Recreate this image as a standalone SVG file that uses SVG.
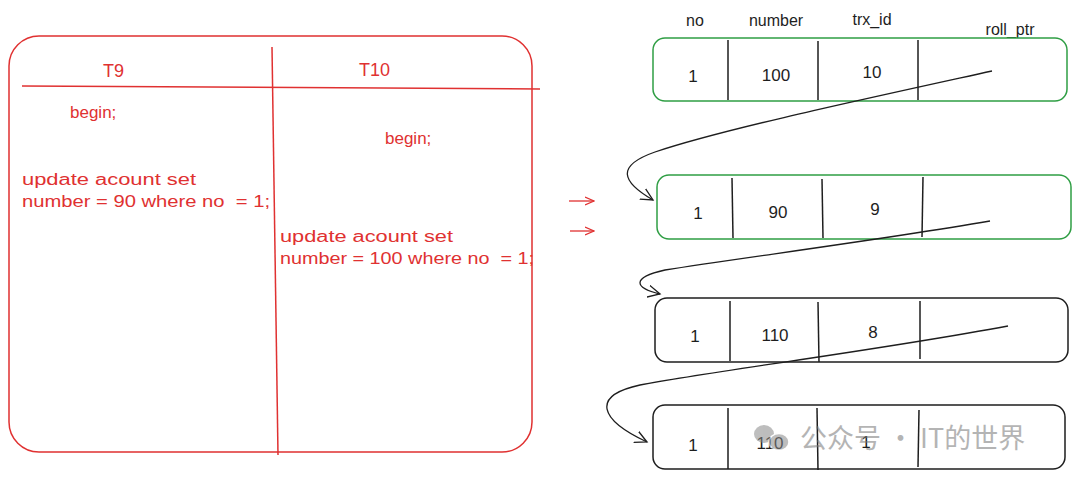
<svg xmlns="http://www.w3.org/2000/svg" width="1080" height="480" viewBox="0 0 1080 480">
<style>
.red{fill:none;stroke:#e03131;stroke-width:1.5}
.rt{fill:#e03131;font-family:"Liberation Sans",sans-serif;font-size:16px;white-space:pre}
.bt{fill:#1e1e1e;font-family:"Liberation Sans",sans-serif;font-size:17px;text-anchor:middle}
.ht{fill:#1e1e1e;font-family:"Liberation Sans",sans-serif;font-size:16px;text-anchor:middle}
.g{fill:#fff;stroke:#2f9e44;stroke-width:1.5}
.k{fill:#fff;stroke:#1e1e1e;stroke-width:1.5}
.dv{stroke:#1e1e1e;stroke-width:1.5}
.con{fill:none;stroke:#1e1e1e;stroke-width:1.3}
.ra{fill:none;stroke:#e03131;stroke-width:1.3}
</style>
<defs>
<marker id="ah" markerWidth="14" markerHeight="14" refX="12" refY="7" orient="auto" markerUnits="userSpaceOnUse">
<path d="M0,1 L12,7 L0,13" fill="none" stroke="#1e1e1e" stroke-width="1.3"/>
</marker>
<marker id="rah" markerWidth="10" markerHeight="10" refX="9" refY="5" orient="auto" markerUnits="userSpaceOnUse">
<path d="M0,1 L9,5 L0,9" fill="none" stroke="#e03131" stroke-width="1.3"/>
</marker>
</defs>
<rect width="1080" height="480" fill="#fff"/>

<g id="transactions">
<rect class="red" x="9" y="36" width="523" height="416" rx="30"/>
<line class="red" x1="272" y1="47" x2="278" y2="455"/>
<line class="red" x1="22" y1="86" x2="540" y2="89"/>
<text class="rt" x="103" y="77" style="font-size:18px">T9</text>
<text class="rt" x="359" y="76" style="font-size:18px">T10</text>
<text class="rt" x="70" y="118" style="font-size:17px">begin;</text>
<text class="rt" x="385" y="144" style="font-size:17px">begin;</text>
<text class="rt" x="22" y="185" textLength="174" lengthAdjust="spacingAndGlyphs">update acount set</text>
<text class="rt" x="22" y="207" textLength="248" lengthAdjust="spacingAndGlyphs" xml:space="preserve">number = 90 where no  = 1;</text>
<text class="rt" x="280" y="242" textLength="173" lengthAdjust="spacingAndGlyphs">update acount set</text>
<text class="rt" x="280" y="264" textLength="254" lengthAdjust="spacingAndGlyphs" xml:space="preserve">number = 100 where no  = 1;</text>
</g>

<g id="headers">
<text class="ht" x="695" y="26">no</text>
<text class="ht" x="776" y="26">number</text>
<text class="ht" x="872" y="25">trx_id</text>
<text class="ht" x="1010" y="35">roll_ptr</text>
</g>

<g id="row1">
<rect class="g" x="653" y="38" width="414" height="63" rx="12"/>
<line class="dv" x1="728" y1="40" x2="728" y2="100"/>
<line class="dv" x1="818" y1="41" x2="818" y2="100"/>
<line class="dv" x1="918" y1="40" x2="918" y2="100"/>
<text class="bt" x="693" y="82">1</text>
<text class="bt" x="776" y="81">100</text>
<text class="bt" x="872" y="78">10</text>
</g>

<g id="row2">
<rect class="g" x="657" y="175" width="414" height="64" rx="12"/>
<line class="dv" x1="732" y1="178" x2="733" y2="238"/>
<line class="dv" x1="822" y1="179" x2="823" y2="238"/>
<line class="dv" x1="923" y1="177" x2="922" y2="237"/>
<text class="bt" x="698" y="219">1</text>
<text class="bt" x="778" y="218">90</text>
<text class="bt" x="875" y="215">9</text>
</g>

<g id="row3">
<rect class="k" x="655" y="298" width="413" height="64" rx="12"/>
<line class="dv" x1="730" y1="301" x2="730" y2="361"/>
<line class="dv" x1="818" y1="302" x2="819" y2="362"/>
<line class="dv" x1="920" y1="301" x2="920" y2="359"/>
<text class="bt" x="695" y="342">1</text>
<text class="bt" x="775" y="341">110</text>
<text class="bt" x="873" y="338">8</text>
</g>

<g id="row4">
<rect class="k" x="653" y="405" width="412" height="64" rx="12"/>
<line class="dv" x1="728" y1="408" x2="728" y2="469"/>
<line class="dv" x1="817" y1="408" x2="818" y2="470"/>
<line class="dv" x1="919" y1="410" x2="918" y2="467"/>
<text class="bt" x="693" y="451">1</text>
<text class="bt" x="770" y="449">110</text>
<text class="bt" x="866" y="448">1</text>
</g>

<g id="connectors">
<path class="con" d="M992,71 C860,100 720,130 655,152 C615,166 622,182 653,200" marker-end="url(#ah)"/>
<path class="con" d="M990,221 C880,240 740,258 665,270 C630,278 635,288 660,294" marker-end="url(#ah)"/>
<path class="con" d="M1008,326 C880,350 720,370 640,385 C590,396 600,420 647,442" marker-end="url(#ah)"/>
<line class="ra" x1="569" y1="201" x2="594" y2="201" marker-end="url(#rah)"/>
<line class="ra" x1="570" y1="231" x2="594" y2="231" marker-end="url(#rah)"/>
</g>

<g id="watermark" opacity="0.55">
<ellipse cx="764" cy="434" rx="10" ry="9" fill="#888"/>
<ellipse cx="779" cy="442" rx="10" ry="8.5" fill="#888" stroke="#fff" stroke-width="1.5"/>
<text x="800" y="448" fill="#777" font-family="'Noto Sans CJK SC',sans-serif" font-size="27">公众号 · IT的世界</text>
</g>
</svg>
